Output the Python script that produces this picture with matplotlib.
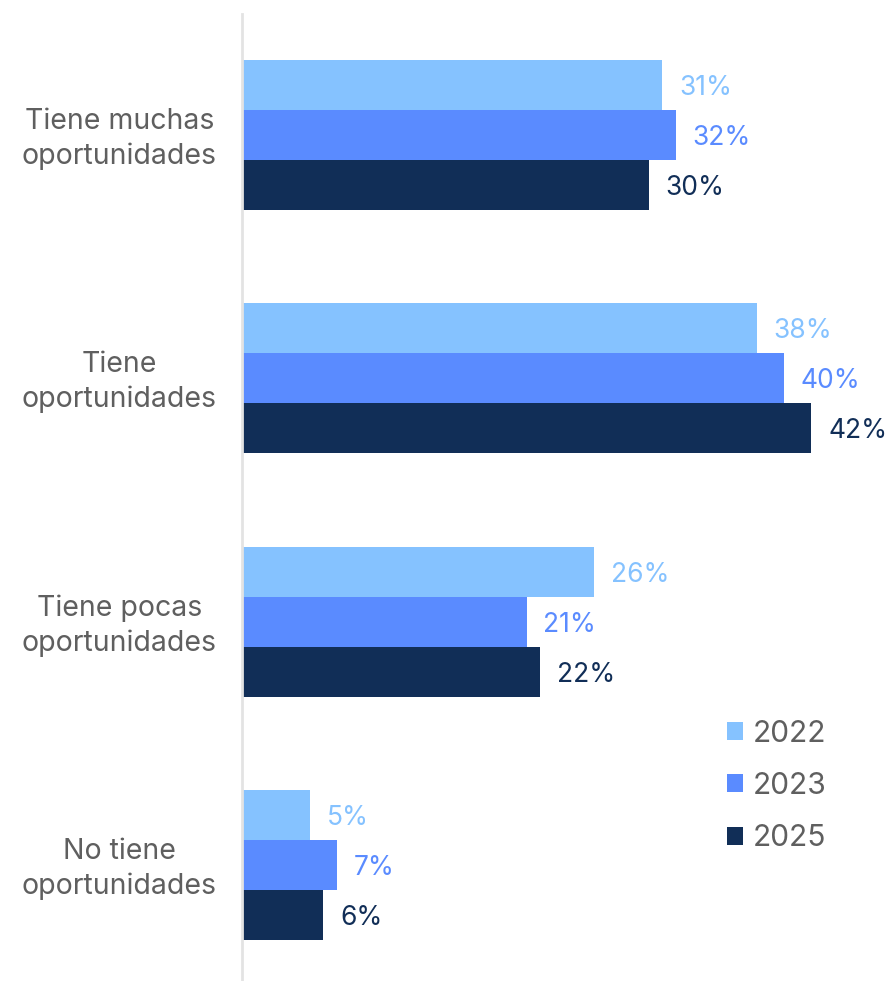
import numpy as np
import matplotlib
matplotlib.use('Agg')
import matplotlib.pyplot as plt
import matplotlib.transforms as mtransforms
from matplotlib.patches import Patch

plt.rcParams['font.family'] = ['Inter', 'DejaVu Sans']

categories = ['Tiene muchas\noportunidades', 'Tiene\noportunidades',
              'Tiene pocas\noportunidades', 'No tiene\noportunidades']
years = ['2022', '2023', '2025']
values_2022 = [31, 38, 26, 5]
values_2023 = [32, 40, 21, 7]
values_2025 = [30, 42, 22, 6]

colors = ['#85C2FF', '#5A8BFF', '#112E57']
text_gray = '#5F5F5F'

fig = plt.figure(figsize=(8.87, 9.81), dpi=100)
ax = fig.add_axes([242 / 887, 0, 645 / 887, 967 / 981])

bar_h = 0.2055
y = np.arange(len(categories))
series = [values_2022, values_2023, values_2025]
for k, (vals, col) in enumerate(zip(series, colors)):
    pos = y + (k - 1) * bar_h
    ax.barh(pos, vals, height=bar_h, color=col, edgecolor='none')
    for p, v in zip(pos, vals):
        ax.text(v + 1.25, p, f'{v}%', color=col, fontsize=19,
                va='center_baseline', ha='left')

ax.set_xlim(0, 47.6)
ax.set_ylim(3.477, -0.497)

for side in ['top', 'right', 'bottom']:
    ax.spines[side].set_visible(False)
ax.spines['left'].set_color('#E3E3E3')
ax.spines['left'].set_linewidth(2)
ax.set_xticks([])
ax.set_yticks(y)
ax.set_yticklabels(categories, fontsize=20.5, color=text_gray,
                   multialignment='center', linespacing=1.35)
ax.tick_params(axis='y', length=0, pad=18)

# nudge the category labels up a little
shift = mtransforms.ScaledTranslation(0, 3 / 100, fig.dpi_scale_trans)
for lbl in ax.get_yticklabels():
    lbl.set_transform(lbl.get_transform() + shift)

handles = [Patch(facecolor=c, edgecolor='none') for c in colors]
leg = fig.legend(handles, years, loc='center left',
                 bbox_to_anchor=(700 / 887, 1 - 786 / 981), frameon=False,
                 fontsize=21.5, handlelength=0.55, handleheight=0.55,
                 handletextpad=0.3, labelspacing=0.82, labelcolor=text_gray)

fig.savefig('out.png', dpi=100)
